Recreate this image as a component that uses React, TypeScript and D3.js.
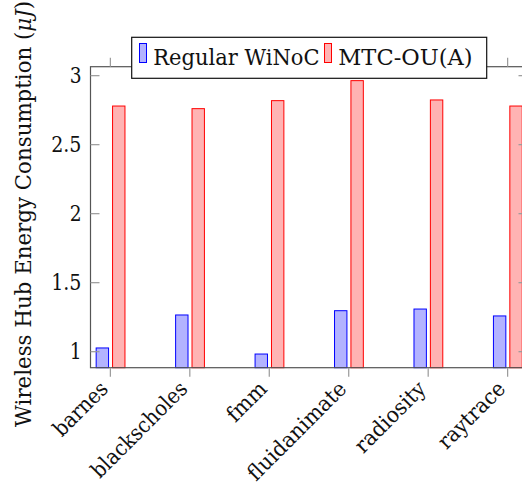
import React from "react";
import * as d3 from "d3";

const categories = ["barnes", "blackscholes", "fmm", "fluidanimate", "radiosity", "raytrace"];
const regularWiNoC = [1.027, 1.266, 0.983, 1.297, 1.309, 1.259];
const mtcOUA = [2.78, 2.761, 2.819, 2.964, 2.824, 2.78];
const yTicks = [1, 1.5, 2, 2.5, 3];
const yTickLabels = ["1", "1.5", "2", "2.5", "3"];
const seriesNames = ["Regular WiNoC", "MTC-OU(A)"];
const yAxisTitle = "Wireless Hub Energy Consumption (";
const yAxisUnit = "μJ";

const W = 522;
const H = 482;
const FONT = '"DejaVu Serif"';
const BASE = 23.7;

// Computer-Modern-like advance widths (em), used to fit DejaVu Serif text to the reference widths
const CMW: Record<string, number> = {
  a: 0.5, b: 0.556, c: 0.444, d: 0.556, e: 0.444, f: 0.306, g: 0.5, h: 0.556, i: 0.278, k: 0.528,
  l: 0.278, m: 0.833, n: 0.556, o: 0.5, p: 0.556, r: 0.392, s: 0.394, t: 0.389, u: 0.556, y: 0.528,
  " ": 0.333, W: 1.028, H: 0.75, E: 0.681, C: 0.722, R: 0.736, N: 0.75, M: 0.917, T: 0.722, O: 0.778,
  U: 0.75, A: 0.75, J: 0.514, "(": 0.389, ")": 0.389, "-": 0.333, ".": 0.278, "μ": 0.603,
};
const cmw = (s: string, size: number) =>
  Array.from(s).reduce((acc, ch) => acc + (CMW[ch] ?? 0.5), 0) * size;

export default function App() {
  const x = d3.scaleLinear().domain([-0.25, categories.length - 0.75]).range([90.5, 527.5]);
  const y = d3.scaleLinear().domain([0.884, 3.065]).range([367.7, 66.7]);
  const [x0, x1] = x.range();
  const [yb, yt] = y.range();
  const barW = 12.4;
  const series = [
    { name: seriesNames[0], values: regularWiNoC, fill: "#b3b3ff", stroke: "#0000ff", off: -14.2 },
    { name: seriesNames[1], values: mtcOUA, fill: "#ffb3b3", stroke: "#ff0000", off: 2.2 },
  ];
  const axisColor = "#555";
  const tickColor = "#999";
  const ts = { fontFamily: FONT };
  const fs = 21.5;
  const yLabelSize = 24.1;
  const yLabelLen = cmw(yAxisTitle + yAxisUnit + ")", yLabelSize);
  const yLabelBottom = 427;
  return (
    <svg width={W} height={H} style={{ position: "absolute", left: 0, top: 0 }}>
      <rect x={0} y={0} width={W} height={H} fill="white" />
      {series.map((s) =>
        s.values.map((v, i) => (
          <rect key={s.name + i} x={x(i) + s.off} y={y(v)} width={barW} height={yb - y(v)} fill={s.fill} stroke={s.stroke} strokeWidth={1} />
        ))
      )}
      <rect x={x0} y={yt} width={x1 - x0} height={yb - yt} fill="none" stroke={axisColor} strokeWidth={1.2} />
      {yTicks.map((t, i) => (
        <g key={"yt" + i}>
          <line x1={x0} x2={x0 + 9} y1={y(t)} y2={y(t)} stroke={tickColor} strokeWidth={1.2} />
          <line x1={x1} x2={x1 - 9} y1={y(t)} y2={y(t)} stroke={tickColor} strokeWidth={1.2} />
          <text
            style={ts}
            x={x0 - 9}
            y={y(t)}
            textAnchor="end"
            dominantBaseline="central"
            fontSize={fs}
            textLength={cmw(yTickLabels[i], BASE)}
            lengthAdjust="spacingAndGlyphs"
            fill="#111"
          >
            {yTickLabels[i]}
          </text>
        </g>
      ))}
      {categories.map((c, i) => (
        <g key={"xt" + i}>
          <line x1={x(i)} x2={x(i)} y1={yb} y2={yb + 9} stroke={tickColor} strokeWidth={1.2} />
          <line x1={x(i)} x2={x(i)} y1={yt} y2={yt - 9} stroke={tickColor} strokeWidth={1.2} />
          <text
            style={ts}
            transform={`translate(${x(i) - 1},${yb + 22.5}) rotate(-45)`}
            textAnchor="end"
            fontSize={fs}
            textLength={cmw(c, BASE)}
            lengthAdjust="spacingAndGlyphs"
            fill="#111"
          >
            {c}
          </text>
        </g>
      ))}
      <text
        style={ts}
        transform={`translate(30.5,${yLabelBottom - yLabelLen / 2}) rotate(-90)`}
        textAnchor="middle"
        fontSize={yLabelSize * 0.92}
        textLength={yLabelLen}
        lengthAdjust="spacingAndGlyphs"
        fill="#111"
      >
        {yAxisTitle}
        <tspan fontStyle="italic">{yAxisUnit}</tspan>)
      </text>
      <g>
        <rect x={131.7} y={37.3} width={355} height={41} fill="white" stroke="#111" strokeWidth={1.2} />
        <rect x={139.5} y={43.5} width={7} height={19} fill={series[0].fill} stroke={series[0].stroke} strokeWidth={1} />
        <text style={ts} x={153.3} y={65} textAnchor="start" fontSize={fs} textLength={cmw(seriesNames[0], BASE)} lengthAdjust="spacingAndGlyphs" fill="#111">
          {seriesNames[0]}
        </text>
        <rect x={324.5} y={43.5} width={7} height={19} fill={series[1].fill} stroke={series[1].stroke} strokeWidth={1} />
        <text style={ts} x={338.3} y={65} textAnchor="start" fontSize={fs} textLength={cmw(seriesNames[1], BASE) - 2} lengthAdjust="spacingAndGlyphs" fill="#111">
          {seriesNames[1]}
        </text>
      </g>
    </svg>
  );
}
